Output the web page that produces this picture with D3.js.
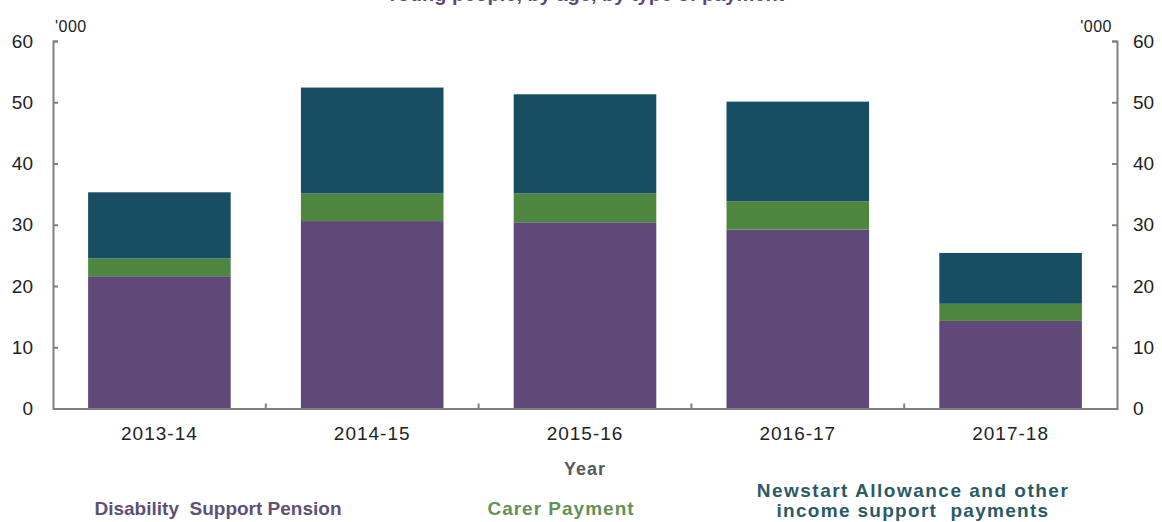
<!DOCTYPE html>
<html>
<head>
<meta charset="utf-8">
<script src="https://cdn.jsdelivr.net/npm/d3@7"></script>
<style>
  html, body { margin: 0; padding: 0; background: #ffffff; }
  svg { display: block; font-family: "Liberation Sans", Arial, sans-serif; }
</style>
</head>
<body>
<svg id="chart" width="1162" height="522"></svg>
<script>
// ---- data ----
const categories = ["2013-14", "2014-15", "2015-16", "2016-17", "2017-18"];
const disabilitySupportPension = [21.6, 30.6, 30.4, 29.2, 14.3];
const carerPayment = [2.9, 4.5, 4.7, 4.6, 2.8];
const newstartAndOther = [10.8, 17.3, 16.2, 16.3, 8.3];
const seriesNames = ["Disability  Support Pension", "Carer Payment", "Newstart Allowance and other income support  payments"];
const yTicks = [0, 10, 20, 30, 40, 50, 60];
const titleText = "Young people, by age, by type of payment";
const unitLabel = "'000";
const xAxisTitle = "Year";

// ---- styling ----
const colors = ["#5F4978", "#4F863F", "#174E61"];
const legendColors = ["#605078", "#649155", "#2A5A66"];
const axisColor = "#808080";

const svg = d3.select("#chart");
const plotLeft = 53, plotRight = 1117, plotTop = 41, plotBottom = 408.5;

const x = d3.scaleBand().domain(categories).range([plotLeft, plotRight]).paddingInner(0.33).paddingOuter(0.165);
const y = d3.scaleLinear().domain([0, 60]).range([plotBottom, plotTop]);

// stacked data
const table = categories.map((c, i) => ({
  cat: c,
  dsp: disabilitySupportPension[i],
  carer: carerPayment[i],
  newstart: newstartAndOther[i]
}));
const stack = d3.stack().keys(["dsp", "carer", "newstart"]);
const layers = stack(table);

svg.append("g").selectAll("g").data(layers).join("g")
  .attr("fill", (d, i) => colors[i])
  .selectAll("rect").data(d => d).join("rect")
  .attr("x", d => x(d.data.cat))
  .attr("width", x.bandwidth())
  .attr("y", d => y(d[1]))
  .attr("height", d => y(d[0]) - y(d[1]));

// left axis
const gl = svg.append("g").attr("transform", `translate(${plotLeft},0)`)
  .call(d3.axisLeft(y).tickValues(yTicks).tickSizeInner(-5).tickSizeOuter(-5).tickPadding(20));
// right axis
const gr = svg.append("g").attr("transform", `translate(${plotRight},0)`)
  .call(d3.axisRight(y).tickValues(yTicks).tickSizeInner(-5).tickSizeOuter(-5).tickPadding(16));

[gl, gr].forEach(g => {
  g.select(".domain").attr("stroke", axisColor).attr("stroke-width", 2);
  g.selectAll(".tick line").attr("stroke", axisColor).attr("stroke-width", 2);
  g.selectAll(".tick text").attr("fill", "#222").style("font-size", "19px")
    .style("font-family", "'Liberation Sans', Arial, sans-serif");
});

// x axis
const gx = svg.append("g").attr("transform", `translate(0,${plotBottom})`)
  .call(d3.axisBottom(x).tickSize(0).tickSizeOuter(0).tickPadding(18));
gx.select(".domain").attr("stroke", axisColor).attr("stroke-width", 2);
gx.selectAll(".tick text").attr("fill", "#222").style("font-size", "19px")
  .style("letter-spacing", "1px")
  .style("font-family", "'Liberation Sans', Arial, sans-serif");

// category boundary ticks (upward)
const step = x.step();
const boundaries = categories.slice(0, -1).map(c => x(c) + x.bandwidth() + (step - x.bandwidth()) / 2);
svg.append("g").selectAll("line").data(boundaries).join("line")
  .attr("x1", d => d).attr("x2", d => d)
  .attr("y1", plotBottom).attr("y2", plotBottom - 5)
  .attr("stroke", axisColor).attr("stroke-width", 2);

// unit labels
svg.append("text").attr("x", plotLeft + 2).attr("y", 32).text(unitLabel)
  .attr("fill", "#222").style("font-size", "16px").style("letter-spacing", "0.5px");
svg.append("text").attr("x", plotRight - 5).attr("y", 32).attr("text-anchor", "end").text(unitLabel)
  .attr("fill", "#222").style("font-size", "16px").style("letter-spacing", "0.5px");

// title (mostly clipped at top, as in the source image)
svg.append("text").attr("x", (plotLeft + plotRight) / 2).attr("y", 1).attr("text-anchor", "middle")
  .text(titleText).attr("fill", "#5F4978").style("font-size", "20px").style("font-weight", "bold");

// x axis title
svg.append("text").attr("x", (plotLeft + plotRight) / 2).attr("y", 475).attr("text-anchor", "middle")
  .text(xAxisTitle).attr("fill", "#595959").style("font-size", "18px").style("font-weight", "bold")
  .style("letter-spacing", "1px");

// legend
const legend = svg.append("g").style("font-size", "19px").style("font-weight", "bold");
legend.append("text").attr("x", 218).attr("y", 515).attr("text-anchor", "middle")
  .attr("fill", legendColors[0]).style("white-space", "pre").text(seriesNames[0]);
legend.append("text").attr("x", 561).attr("y", 515).attr("text-anchor", "middle")
  .attr("fill", legendColors[1]).style("letter-spacing", "1px").text(seriesNames[1]);
const nl = legend.append("text").attr("text-anchor", "middle")
  .attr("fill", legendColors[2]).style("white-space", "pre");
nl.append("tspan").attr("x", 913).attr("y", 497).style("letter-spacing", "1.5px").text("Newstart Allowance and other");
nl.append("tspan").attr("x", 913).attr("y", 517).style("letter-spacing", "1.3px").text("income support  payments");
</script>
</body>
</html>
